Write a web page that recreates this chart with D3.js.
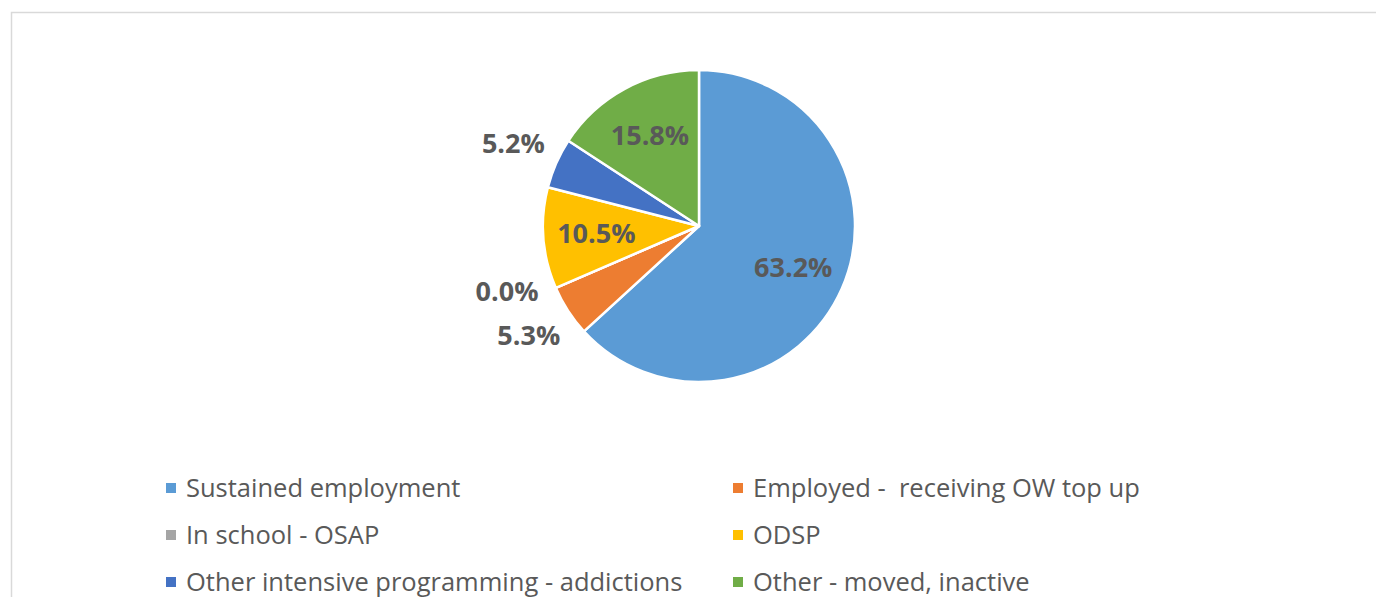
<!DOCTYPE html>
<html>
<head>
<meta charset="utf-8">
<script src="https://cdn.jsdelivr.net/npm/d3@7"></script>
<style>
  html, body { margin: 0; padding: 0; background: #fff; }
  svg { display: block; }
</style>
</head>
<body>
<svg id="chart" width="1376" height="597"></svg>
<script>
// chart data
var categories = [
  'Sustained employment',
  'Employed -  receiving OW top up',
  'In school - OSAP',
  'ODSP',
  'Other intensive programming - addictions',
  'Other - moved, inactive'
];
var shares = [63.2, 5.3, 0.0, 10.5, 5.2, 15.8];
var colors = ['#5B9BD5', '#ED7D31', '#A5A5A5', '#FFC000', '#4472C4', '#70AD47'];
// true = label sits inside the slice
var labelInside = [true, false, false, true, false, true];
var labelNudge = [0, 0, 0.08, 0, 0, 0]; // extra angle (rad) for crowded labels

var width = 1376
  , height = 597
  , cx = 699
  , cy = 226
  , radius = 156
  , textColor = '#595959';

var svg = d3.select('#chart');

// chart frame
svg.append('path')
  .attr('d', 'M11.5,597 V12.5 H1376')
  .attr('fill', 'none')
  .attr('stroke', '#D9D9D9')
  .attr('stroke-width', 1.5);

var data = categories.map(function (c, i) {
  return {name: c, value: shares[i], color: colors[i], inside: labelInside[i], nudge: labelNudge[i]};
});

var pie = d3.pie()
  .sort(null)
  .value(function (d) { return d.value; });

var arc = d3.arc().innerRadius(0).outerRadius(radius);
var innerLabelArc = d3.arc().innerRadius(radius * 0.66).outerRadius(radius * 0.66);
var outerLabelArc = d3.arc().innerRadius(radius * 1.3).outerRadius(radius * 1.3);

var g = svg.append('g').attr('transform', 'translate(' + cx + ',' + cy + ')');
var arcs = pie(data);

g.selectAll('path.slice')
  .data(arcs)
  .enter()
  .append('path')
  .attr('class', 'slice')
  .attr('d', arc)
  .attr('fill', function (d) { return d.data.color; })
  .attr('stroke', '#fff')
  .attr('stroke-width', 2.5)
  .attr('stroke-linejoin', 'round');

g.selectAll('text.lbl')
  .data(arcs)
  .enter()
  .append('text')
  .attr('class', 'lbl')
  .attr('transform', function (d) {
    var a = d.data.nudge;
    var p = (d.data.inside ? innerLabelArc : outerLabelArc)
      .centroid({startAngle: d.startAngle + a, endAngle: d.endAngle + a});
    return 'translate(' + p + ')';
  })
  .attr('text-anchor', 'middle')
  .attr('dy', '0.34em')
  .attr('fill', textColor)
  .style('font', 'bold 27px "Open Sans", sans-serif')
  .text(function (d) { return d.data.value.toFixed(1) + '%'; });

// legend
var legendCols = [166, 733]
  , legendRows = [488, 535, 582];

var legend = svg.selectAll('g.legend')
  .data(data)
  .enter()
  .append('g')
  .attr('class', 'legend')
  .attr('transform', function (d, i) {
    return 'translate(' + legendCols[i % 2] + ',' + legendRows[Math.floor(i / 2)] + ')';
  });

legend.append('rect')
  .attr('x', 0)
  .attr('y', -5)
  .attr('width', 10)
  .attr('height', 10)
  .attr('fill', function (d) { return d.color; });

legend.append('text')
  .attr('x', 20)
  .attr('dy', '0.35em')
  .attr('fill', textColor)
  .style('font', '25.5px "Open Sans", sans-serif')
  .style('white-space', 'pre')
  .text(function (d) { return d.name; });
</script>
</body>
</html>
